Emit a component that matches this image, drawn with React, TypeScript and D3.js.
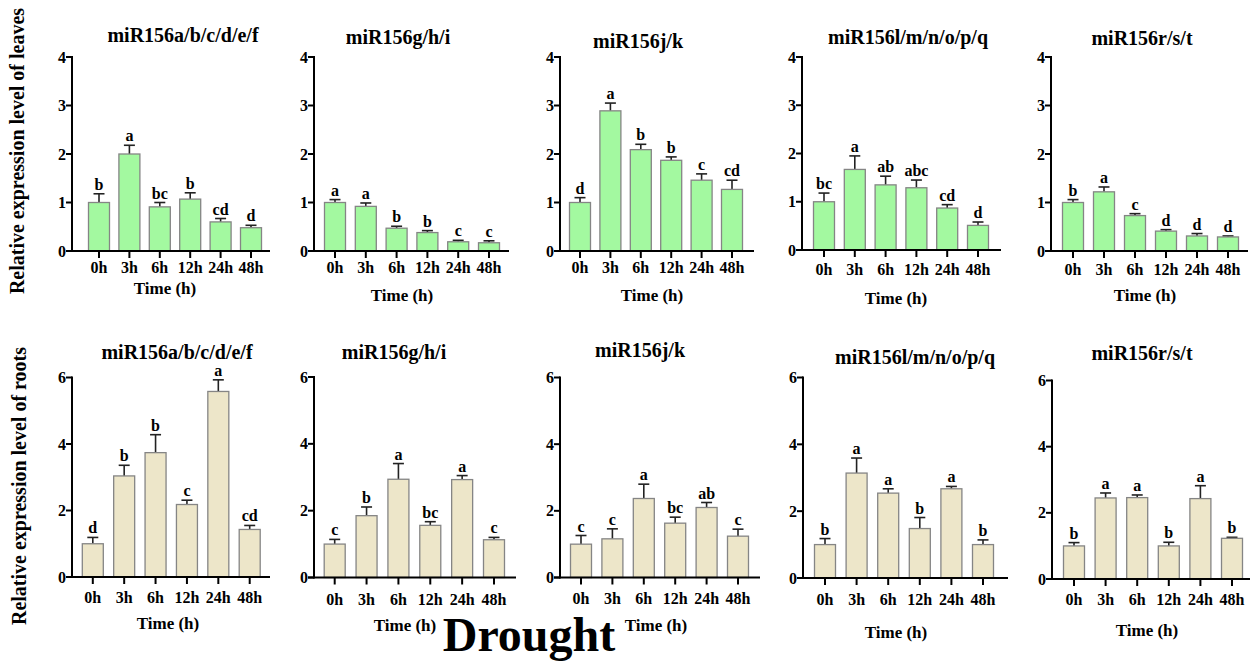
import React from "react";
import * as d3 from "d3";

const times = ["0h", "3h", "6h", "12h", "24h", "48h"];
const genes = ["miR156a/b/c/d/e/f", "miR156g/h/i", "miR156j/k", "miR156l/m/n/o/p/q", "miR156r/s/t"];

const leavesMean = [
  [1.0, 2.0, 0.91, 1.07, 0.6, 0.48],
  [1.0, 0.92, 0.47, 0.38, 0.19, 0.17],
  [1.0, 2.89, 2.09, 1.87, 1.46, 1.27],
  [1.0, 1.67, 1.35, 1.29, 0.87, 0.51],
  [1.0, 1.22, 0.73, 0.41, 0.31, 0.29],
];
const leavesSD = [
  [0.18, 0.18, 0.09, 0.13, 0.07, 0.05],
  [0.06, 0.07, 0.04, 0.04, 0.03, 0.04],
  [0.1, 0.16, 0.11, 0.07, 0.13, 0.19],
  [0.18, 0.28, 0.18, 0.16, 0.07, 0.07],
  [0.06, 0.1, 0.04, 0.03, 0.05, 0.02],
];
const leavesLetters = [
  ["b", "a", "bc", "b", "cd", "d"],
  ["a", "a", "b", "b", "c", "c"],
  ["d", "a", "b", "b", "c", "cd"],
  ["bc", "a", "ab", "abc", "cd", "d"],
  ["b", "a", "c", "d", "d", "d"],
];

const rootsMean = [
  [1.0, 3.04, 3.74, 2.18, 5.58, 1.43],
  [1.0, 1.85, 2.94, 1.56, 2.93, 1.13],
  [1.0, 1.16, 2.37, 1.63, 2.1, 1.24],
  [1.0, 3.14, 2.54, 1.48, 2.67, 1.0],
  [1.0, 2.45, 2.46, 1.0, 2.43, 1.23],
];
const rootsSD = [
  [0.19, 0.32, 0.54, 0.13, 0.35, 0.12],
  [0.14, 0.26, 0.47, 0.11, 0.12, 0.07],
  [0.26, 0.3, 0.43, 0.18, 0.15, 0.21],
  [0.18, 0.45, 0.13, 0.33, 0.07, 0.14],
  [0.1, 0.15, 0.08, 0.11, 0.39, 0.03],
];
const rootsLetters = [
  ["d", "b", "b", "c", "a", "cd"],
  ["c", "b", "a", "bc", "a", "c"],
  ["c", "c", "a", "bc", "ab", "c"],
  ["b", "a", "a", "b", "a", "b"],
  ["b", "a", "a", "b", "a", "b"],
];

const leavesTicks = [0, 1, 2, 3, 4];
const rootsTicks = [0, 2, 4, 6];

const FONT = "'Liberation Serif', 'Times New Roman', serif";

type Layout = {
  axisX: number; first: number; last: number; end: number;
  yTop: number; y0: number;
  titleX: number; titleY: number; timeX: number; timeY: number; tickY: number;
};

const topLayout: Layout[] = [
  { axisX: 72, first: 99, last: 251, end: 270, yTop: 57, y0: 251, titleX: 183, titleY: 42, timeX: 165, timeY: 294, tickY: 273 },
  { axisX: 314, first: 335, last: 489, end: 509, yTop: 57, y0: 251, titleX: 398, titleY: 44, timeX: 402, timeY: 301, tickY: 273 },
  { axisX: 560, first: 580, last: 732, end: 754, yTop: 57, y0: 251, titleX: 638, titleY: 48, timeX: 652, timeY: 301, tickY: 273 },
  { axisX: 802, first: 824, last: 978, end: 1001, yTop: 57, y0: 250, titleX: 908, titleY: 44, timeX: 896, timeY: 304, tickY: 275 },
  { axisX: 1051, first: 1073, last: 1228, end: 1248, yTop: 57, y0: 251, titleX: 1142, titleY: 45, timeX: 1145, timeY: 301, tickY: 275 },
];
const bottomLayout: Layout[] = [
  { axisX: 72, first: 92.8, last: 249.7, end: 270, yTop: 377.5, y0: 577, titleX: 177, titleY: 359, timeX: 168, timeY: 629, tickY: 603 },
  { axisX: 314, first: 334.7, last: 494, end: 516, yTop: 377, y0: 577.5, titleX: 394, titleY: 359, timeX: 405, timeY: 631, tickY: 605 },
  { axisX: 560, first: 581, last: 738, end: 760, yTop: 377.5, y0: 577.5, titleX: 640, titleY: 357, timeX: 656, timeY: 631, tickY: 604 },
  { axisX: 803, first: 825, last: 983, end: 1008, yTop: 377.5, y0: 578, titleX: 915, titleY: 364, timeX: 896, timeY: 638, tickY: 605 },
  { axisX: 1052, first: 1074, last: 1232, end: 1250, yTop: 380.5, y0: 579, titleX: 1142, titleY: 360, timeX: 1147, timeY: 636, tickY: 605 },
];

function Panel(props: {
  lay: Layout; title: string; mean: number[]; sd: number[]; letters: string[];
  ticks: number[]; fill: string;
}) {
  const { lay, title, mean, sd, letters, ticks, fill } = props;
  const x = d3.scalePoint<string>().domain(times).range([lay.first, lay.last]);
  const y = d3.scaleLinear().domain([0, ticks[ticks.length - 1]]).range([lay.y0, lay.yTop]);
  const bw = 21;
  const cap = 5.5;
  return (
    <g>
      <text x={lay.titleX} y={lay.titleY} textAnchor="middle" fontFamily={FONT} fontWeight="bold" fontSize={20}>{title}</text>
      {times.map((t, i) => {
        const cx = x(t) as number;
        const top = y(mean[i]);
        const et = y(mean[i] + sd[i]);
        return (
          <g key={t}>
            <line x1={cx} x2={cx} y1={top} y2={et} stroke="#222" strokeWidth={1.6} />
            <line x1={cx - cap} x2={cx + cap} y1={et} y2={et} stroke="#222" strokeWidth={1.6} />
            <rect x={cx - bw / 2} y={top} width={bw} height={lay.y0 - top} fill={fill} stroke="#858585" strokeWidth={1.3} />
            <text x={cx} y={et - 4} textAnchor="middle" fontFamily={FONT} fontWeight="bold" fontSize={16}>{letters[i]}</text>
            <line x1={cx} x2={cx} y1={lay.y0} y2={lay.y0 + 7} stroke="#000" strokeWidth={2} />
            <text x={cx} y={lay.tickY} textAnchor="middle" fontFamily={FONT} fontWeight="bold" fontSize={16}>{t}</text>
          </g>
        );
      })}
      <line x1={lay.axisX} x2={lay.axisX} y1={lay.yTop - 1} y2={lay.y0 + 1} stroke="#000" strokeWidth={2} />
      <line x1={lay.axisX - 6} x2={lay.end} y1={lay.y0} y2={lay.y0} stroke="#000" strokeWidth={2} />
      {ticks.map((v) => (
        <g key={v}>
          <line x1={lay.axisX - 6} x2={lay.axisX} y1={y(v)} y2={y(v)} stroke="#000" strokeWidth={2} />
          <text x={lay.axisX - 6} y={y(v) + 5.5} textAnchor="end" fontFamily={FONT} fontWeight="bold" fontSize={16}>{v}</text>
        </g>
      ))}
      <text x={lay.timeX} y={lay.timeY} textAnchor="middle" fontFamily={FONT} fontWeight="bold" fontSize={17}>Time (h)</text>
    </g>
  );
}

export default function App() {
  return (
    <svg width={1255} height={661} style={{ position: "absolute", left: 0, top: 0, background: "#fff" }}>
      <rect x={0} y={0} width={1255} height={661} fill="#fff" />
      {genes.map((g, i) => (
        <Panel key={"l" + i} lay={topLayout[i]} title={g} mean={leavesMean[i]} sd={leavesSD[i]}
          letters={leavesLetters[i]} ticks={leavesTicks} fill="#a3f9a0" />
      ))}
      {genes.map((g, i) => (
        <Panel key={"r" + i} lay={bottomLayout[i]} title={g} mean={rootsMean[i]} sd={rootsSD[i]}
          letters={rootsLetters[i]} ticks={rootsTicks} fill="#ede6c9" />
      ))}
      <text transform="translate(24,151) rotate(-90)" textAnchor="middle" fontFamily={FONT} fontWeight="bold" fontSize={20}>
        Relative expression level of leaves
      </text>
      <text transform="translate(26,486) rotate(-90)" textAnchor="middle" fontFamily={FONT} fontWeight="bold" fontSize={20}>
        Relative expression level of roots
      </text>
      <text x={529} y={651} textAnchor="middle" fontFamily={FONT} fontWeight="bold" fontSize={48}>Drought</text>
    </svg>
  );
}
